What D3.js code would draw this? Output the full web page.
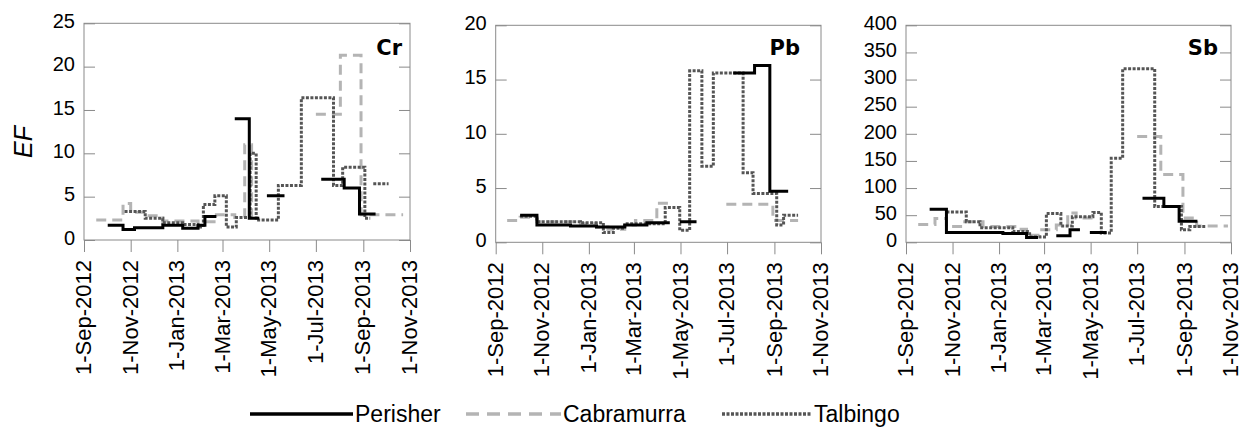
<!DOCTYPE html>
<html><head><meta charset="utf-8">
<script src="https://cdn.jsdelivr.net/npm/d3@7"></script>
<style>body{margin:0;background:#fff}svg{display:block}</style>
</head><body><svg id="c" width="1241" height="429"></svg>
<script>
// ---------- data ----------
const seriesNames = ["Perisher", "Cabramurra", "Talbingo"];
const panelLabels = ["Cr", "Pb", "Sb"];
const xTickDates = ["2012-09-01","2012-11-01","2013-01-01","2013-03-01","2013-05-01","2013-07-01","2013-09-01","2013-11-01"];
const crTicks = [0, 5, 10, 15, 20, 25];
const pbTicks = [0, 5, 10, 15, 20];
const sbTicks = [0, 50, 100, 150, 200, 250, 300, 350, 400];

// each entry: [sample start date, EF]; the last entry of a run repeats the value at the end date; null = gap
const crPerisher = [["2012-10-02",1.7],["2012-10-22",1.2],["2012-11-06",1.4],["2012-12-13",1.7],["2013-01-08",1.35],["2013-01-28",1.7],["2013-02-06",2.7],["2013-02-21",2.7], null,
  ["2013-03-17",14.0],["2013-04-05",2.5],["2013-04-18",2.5], null,
  ["2013-04-28",5.1],["2013-05-21",5.1], null,
  ["2013-07-08",7.0],["2013-08-07",6.0],["2013-08-27",3.0],["2013-09-17",3.0]];
const crCabramurra = [["2012-09-17",2.3],["2012-10-22",4.2],["2012-11-01",3.2],["2012-11-20",2.8],["2012-12-13",2.2],["2013-01-28",2.1],["2013-02-21",2.9],["2013-03-17",2.6],["2013-03-30",11.0],["2013-04-08",2.5],["2013-04-18",2.5], null,
  ["2013-07-01",14.5],["2013-08-02",21.3],["2013-08-29",2.9],["2013-10-23",2.9]];
const crTalbingo = [["2012-10-24",3.3],["2012-11-20",2.5],["2012-12-13",2.0],["2013-01-08",1.8],["2013-01-28",1.5],["2013-02-04",4.1],["2013-02-19",5.1],["2013-03-06",1.5],["2013-03-19",2.6],["2013-04-06",10.0],["2013-04-14",2.3],["2013-05-13",6.3],["2013-06-12",16.4],["2013-07-24",6.3],["2013-08-05",8.4],["2013-09-03",2.5],["2013-09-10",2.5], null,
  ["2013-09-14",6.5],["2013-10-04",6.5]];

const pbPerisher = [["2012-10-03",2.5],["2012-10-25",1.6],["2012-12-08",1.5],["2013-01-11",1.4],["2013-02-17",1.6],["2013-03-18",1.8],["2013-04-17",1.8], null,
  ["2013-04-30",1.9],["2013-05-22",1.9], null,
  ["2013-07-09",15.6],["2013-08-06",16.3],["2013-08-26",4.7],["2013-09-19",4.7]];
const pbCabramurra = [["2012-09-16",2.0],["2012-10-03",2.3],["2012-10-25",1.9],["2012-12-21",1.7],["2013-01-11",1.4],["2013-01-26",1.2],["2013-02-17",1.6],["2013-03-03",2.0],["2013-03-31",3.6],["2013-04-17",3.6], null,
  ["2013-06-30",3.5],["2013-08-30",2.0],["2013-10-02",2.0]];
const pbTalbingo = [["2012-10-03",2.4],["2012-10-25",1.9],["2012-12-21",1.8],["2013-01-20",0.9],["2013-02-02",1.3],["2013-02-17",1.7],["2013-04-11",3.2],["2013-04-30",1.1],["2013-05-13",15.8],["2013-05-29",7.0],["2013-06-13",15.6],["2013-07-22",6.4],["2013-08-04",4.5],["2013-09-04",1.6],["2013-09-13",2.5],["2013-10-02",2.5]];

const sbPerisher = [["2012-10-02",61],["2012-10-24",18],["2013-01-06",16],["2013-02-06",9],["2013-02-21",9], null,
  ["2013-03-17",12],["2013-04-04",23],["2013-04-17",23], null,
  ["2013-04-30",18],["2013-05-22",18], null,
  ["2013-07-08",81],["2013-08-05",66],["2013-08-25",39],["2013-09-18",39]];
const sbCabramurra = [["2012-09-17",33],["2012-10-09",44],["2012-10-24",29],["2012-11-15",38],["2012-12-11",29],["2013-01-24",24],["2013-02-06",13],["2013-02-23",23],["2013-03-17",32],["2013-04-01",54],["2013-04-12",45],["2013-05-04",45], null,
  ["2013-07-01",195],["2013-08-01",125],["2013-08-30",45],["2013-09-17",30],["2013-10-28",30]];
const sbTalbingo = [["2012-10-24",56],["2012-11-19",38],["2012-12-07",27],["2013-01-19",20],["2013-02-10",10],["2013-03-04",53],["2013-03-23",30],["2013-04-07",47],["2013-05-04",55],["2013-05-15",17],["2013-05-28",155],["2013-06-12",320],["2013-07-24",66],["2013-08-28",23],["2013-09-08",29],["2013-09-30",29]];

// ---------- layout / style ----------
const FONT = "'Liberation Sans', Arial, sans-serif";
const frameColor = "#8a8a8a";
const styles = {
  Perisher:   {stroke: "#000000", width: 3,   dash: null},
  Cabramurra: {stroke: "#b4b4b4", width: 3,   dash: "10,6"},
  Talbingo:   {stroke: "#555555", width: 3,   dash: "3,1.5"}
};
const drawOrder = ["Cabramurra", "Talbingo", "Perisher"];

const panels = [
  {label: panelLabels[0], ticks: crTicks, data: {Perisher: crPerisher, Cabramurra: crCabramurra, Talbingo: crTalbingo},
   box: {l: 84, r: 410, t: 23.3, b: 240}, labelX: 402},
  {label: panelLabels[1], ticks: pbTicks, data: {Perisher: pbPerisher, Cabramurra: pbCabramurra, Talbingo: pbTalbingo},
   box: {l: 495.7, r: 821, t: 25.3, b: 242.3}, labelX: 800},
  {label: panelLabels[2], ticks: sbTicks, data: {Perisher: sbPerisher, Cabramurra: sbCabramurra, Talbingo: sbTalbingo},
   box: {l: 906, r: 1231, t: 25.3, b: 242.3}, labelX: 1218}
];

const parse = d3.timeParse("%Y-%m-%d");
const fmt = d3.timeFormat("%-d-%b-%Y");
const tickDates = xTickDates.map(parse);
const svg = d3.select("#c");

panels.forEach(p => {
  const B = p.box;
  const x = d3.scaleTime().domain([tickDates[0], tickDates[tickDates.length - 1]]).range([B.l, B.r]);
  const y = d3.scaleLinear().domain([0, d3.max(p.ticks)]).range([B.b, B.t]);
  const g = svg.append("g");

  // frame
  g.append("rect").attr("x", B.l).attr("y", B.t).attr("width", B.r - B.l).attr("height", B.b - B.t)
    .attr("fill", "none").attr("stroke", frameColor).attr("stroke-width", 1);

  // left axis
  const ya = g.append("g").attr("transform", `translate(${B.l},0)`)
    .call(d3.axisLeft(y).tickValues(p.ticks).tickSize(-11).tickPadding(9));
  ya.select(".domain").remove();
  ya.selectAll("line").attr("stroke", frameColor);
  ya.selectAll("text").attr("font-family", FONT).attr("font-size", 20).attr("fill", "#000").attr("dy", "0.21em");

  // right axis ticks
  const yr = g.append("g").attr("transform", `translate(${B.r},0)`)
    .call(d3.axisRight(y).tickValues(p.ticks).tickSize(-11).tickFormat(""));
  yr.select(".domain").remove();
  yr.selectAll("line").attr("stroke", frameColor);

  // bottom axis
  const xa = g.append("g").attr("transform", `translate(0,${B.b})`)
    .call(d3.axisBottom(x).tickValues(tickDates).tickSize(12).tickFormat(fmt));
  xa.select(".domain").remove();
  xa.selectAll("line").attr("stroke", frameColor);
  xa.selectAll("text")
    .attr("font-family", FONT).attr("font-size", 22).attr("fill", "#000")
    .attr("transform", "rotate(-90)").attr("text-anchor", "end")
    .attr("x", -20).attr("y", 0).attr("dy", "0.3em");

  // series
  const line = d3.line().defined(d => d !== null)
    .x(d => x(parse(d[0]))).y(d => y(d[1])).curve(d3.curveStepAfter);
  drawOrder.forEach(name => {
    const s = styles[name];
    g.append("path").datum(p.data[name]).attr("d", line)
      .attr("fill", "none").attr("stroke", s.stroke).attr("stroke-width", s.width)
      .attr("stroke-dasharray", s.dash).attr("stroke-linejoin", "miter");
  });

  // panel label
  g.append("text").attr("x", p.labelX).attr("y", 55).attr("text-anchor", "end")
    .attr("font-family", "'DejaVu Sans', Verdana, sans-serif").attr("font-weight", "bold")
    .attr("font-size", 21).text(p.label);
});

// y-axis title
svg.append("text").attr("transform", "translate(31.5,142) rotate(-90)").attr("text-anchor", "middle")
  .attr("font-family", FONT).attr("font-style", "italic").attr("font-size", 25).text("EF");

// legend
const legendItems = [
  {name: seriesNames[0], x1: 250, x2: 353},
  {name: seriesNames[1], x1: 466, x2: 561},
  {name: seriesNames[2], x1: 722, x2: 812}
];
const lg = svg.append("g");
legendItems.forEach(it => {
  const s = styles[it.name];
  lg.append("line").attr("x1", it.x1).attr("x2", it.x2).attr("y1", 414).attr("y2", 414)
    .attr("stroke", s.stroke).attr("stroke-width", 3.5)
    .attr("stroke-dasharray", it.name === "Cabramurra" ? "13,8" : s.dash);
  lg.append("text").attr("x", it.x2 + 2).attr("y", 421.5).attr("font-family", FONT)
    .attr("font-size", 23).attr("fill", "#000").text(it.name);
});
</script>
</body></html>
